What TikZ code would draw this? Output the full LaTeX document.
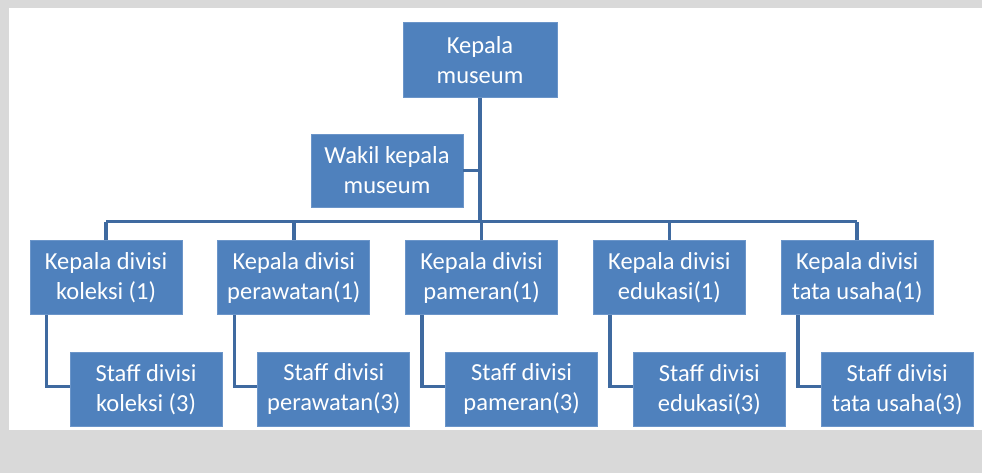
\documentclass[tikz,border=0pt]{standalone}
\usepackage{fontspec}
\setmainfont{Carlito}
\usepackage{tikz}
\usetikzlibrary{positioning}
\definecolor{boxBlue}{HTML}{4F81BD}
\definecolor{edgeBlue}{HTML}{6B95C9}
\definecolor{lineBlue}{HTML}{3F6AA0}
\definecolor{pageGray}{HTML}{D9D9D9}

\begin{document}
\begin{tikzpicture}[x=1pt, y=1pt,
    box/.style={draw=edgeBlue, line width=0.8pt, fill=boxBlue, text=white, minimum width=152pt, minimum height=74pt, align=center, inner sep=1pt, font=\fontsize{24.5}{30}\selectfont},
    link/.style={lineBlue, line width=3.6pt}
  ]
    % page background
    \fill[pageGray] (0,0) rectangle (982,-473);
    \fill[white] (9,-8) rectangle (982,-430);
    \useasboundingbox (0,0) rectangle (982,-473);

    \node[box, minimum width=154pt, minimum height=75pt] (kmus) at (480,-60) {Kepala\\museum};
    \node[box, minimum height=73pt] (wakil) at (387,-170.5) {Wakil kepala\\museum};

    \node[box] (kkol) at (106,-277.5) {Kepala divisi\\koleksi (1)};
    \node[box, right=35pt of kkol] (kraw) {Kepala divisi\\perawatan(1)};
    \node[box, right=35pt of kraw] (kpam) {Kepala divisi\\pameran(1)};
    \node[box, right=35pt of kpam] (kedu) {Kepala divisi\\edukasi(1)};
    \node[box, right=35pt of kedu] (ktu) {Kepala divisi\\tata usaha(1)};

    \node[box, below=37pt of kkol, xshift=40pt] (skol) {Staff divisi\\koleksi (3)};
    \node[box, below=37pt of kraw, xshift=40pt] (sraw) {Staff divisi\\perawatan(3)};
    \node[box, below=37pt of kpam, xshift=40pt] (spam) {Staff divisi\\pameran(3)};
    \node[box, below=37pt of kedu, xshift=40pt] (sedu) {Staff divisi\\edukasi(3)};
    \node[box, below=37pt of ktu, xshift=40pt] (stu) {Staff divisi\\tata usaha(3)};

    \coordinate (bus) at ([yshift=18.5pt]kpam.north);
    \draw[link] (kmus.south) -- (kmus.south |- bus);
    \draw[link] (wakil.east) -- (kmus.south |- wakil.east);
    \draw[link] (kkol.north |- bus) -- (ktu.north |- bus);
    \foreach \k/\s in {kkol/skol, kraw/sraw, kpam/spam, kedu/sedu, ktu/stu} {
      \draw[link] (\k.north) -- (\k.north |- bus);
      \draw[link] ([xshift=17pt]\k.south west) |- ([yshift=3pt]\s.west);
    }
  \end{tikzpicture}
\end{document}
